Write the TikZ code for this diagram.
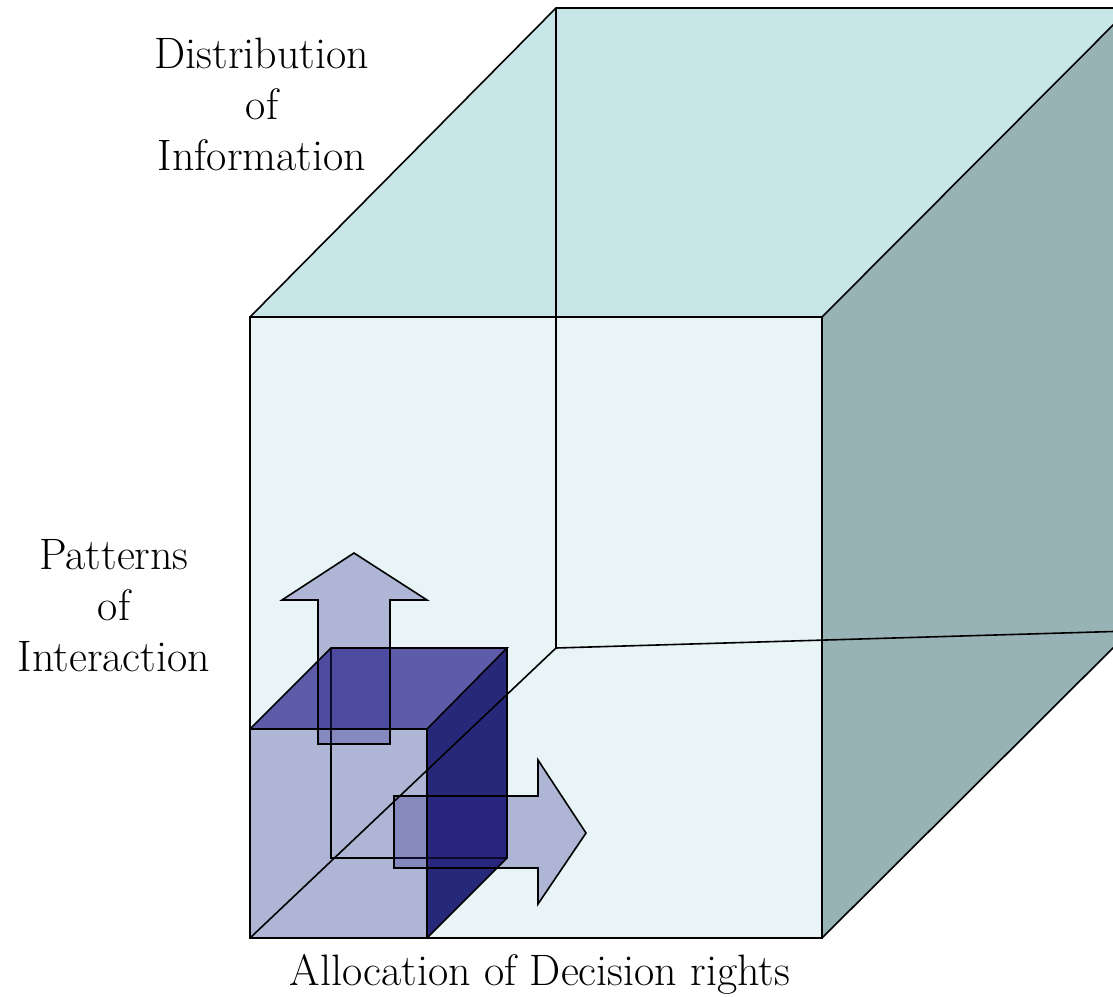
\documentclass[tikz,border=0pt]{standalone}
\usepackage{fontspec}
\definecolor{frontcol}{RGB}{232,244,245}
\definecolor{topcol}{RGB}{200,230,232}
\definecolor{sidecol}{RGB}{151,179,182}
\definecolor{navy}{RGB}{42,36,140}
\definecolor{darknavy}{RGB}{40,40,122}
\tikzset{
  edge/.style={draw=black, line width=1.6pt, line join=miter},
  lbl/.style={align=center, inner sep=0pt, font=\fontsize{44}{51}\selectfont},
  arrowbox/.style={edge, fill=navy, fill opacity=.3}
}
\begin{document}
\begin{tikzpicture}[x=1pt,y=-1pt]
\useasboundingbox (0,0) rectangle (1113,996);
\begin{scope}
\clip (0,0) rectangle (1113,996);
\coordinate (fa) at (250,317);
\coordinate (fb) at (822,317);
\coordinate (fc) at (822,938);
\coordinate (fd) at (250,938);
\coordinate (ba) at (556,8);
\coordinate (bb) at (1130,8);
\coordinate (bc) at (1130,631);
\coordinate (bd) at (556,648);
\fill[frontcol] (fa) -- (fb) -- (fc) -- (fd) -- cycle;
\fill[topcol] (fa) -- (ba) -- (bb) -- (fb) -- cycle;
\fill[sidecol] (fb) -- (bb) -- (bc) -- (fc) -- cycle;
\draw[edge] (fa) -- (fb) -- (fc) -- (fd) -- cycle;
\draw[edge] (fa) -- (ba) -- (bb);
\draw[edge] (fb) -- (bb);
\draw[edge] (fc) -- (bc);

\coordinate (sa) at (250,729);
\coordinate (sb) at (427,729);
\coordinate (sc) at (427,938);
\coordinate (sd) at (250,938);
\coordinate (ta) at (331,648);
\coordinate (tb) at (507,648);
\coordinate (tc) at (507,858);
\coordinate (td) at (331,858);
\fill[navy, opacity=.3] (sa) -- (sb) -- (sc) -- (sd) -- cycle;
\fill[navy, opacity=.73] (sa) -- (ta) -- (tb) -- (sb) -- cycle;
\fill[darknavy] (sb) -- (tb) -- (tc) -- (sc) -- cycle;
\draw[edge] (ta) -- (td) -- (tc);

\draw[arrowbox] (318,744) -- (318,600) -- (282,600) -- (354,553) -- (427,600) -- (390,600) -- (390,744) -- cycle;
\draw[arrowbox] (394,796) -- (538,796) -- (538,760) -- (586,833) -- (538,904) -- (538,868) -- (394,868) -- cycle;

\draw[edge] (ba) -- (bd);
\draw[edge] (bd) -- (bc);
\draw[edge] (fd) -- (bd);

\draw[edge] (sa) -- (sb) -- (sc) -- (sd) -- cycle;
\draw[edge] (sa) -- (ta) -- (tb) -- (sb);
\draw[edge] (tb) -- (tc) -- (sc);
\end{scope}

\node[lbl] (dist) at (262,104) {Distribution\\of\\Information};
\node[lbl] (patt) at (114,606) {Patterns\\of\\Interaction};
\node[lbl, anchor=base] (alloc) at (540,985) {Allocation of Decision rights};
\end{tikzpicture}
\end{document}
